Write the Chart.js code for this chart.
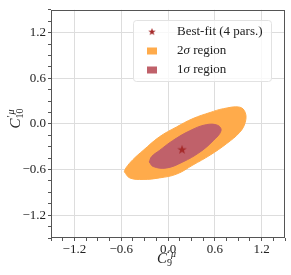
<!DOCTYPE html>
<html>
<head>
<meta charset="utf-8">
<script src="https://cdn.jsdelivr.net/npm/chart.js@4/dist/chart.umd.min.js"></script>
<style>
  html, body { margin: 0; padding: 0; background: #fff; }
  #wrap { width: 291px; height: 275px; }
</style>
</head>
<body>
<div id="wrap"><canvas id="fit"></canvas></div>
<script>
// axis range and labelled ticks
const axisMin = -1.5;
const axisMax = 1.5;
const majorTicks = [-1.2, -0.6, 0.0, 0.6, 1.2];

// best-fit point (C9', C10')
const bestFitX = [0.18];
const bestFitY = [-0.34];

// 2 sigma region outline
const sigma2X = [-0.56, -0.49, -0.32, -0.11, 0.11, 0.32, 0.54, 0.75, 0.92, 0.99, 0.99, 0.92, 0.71, 0.54, 0.32, 0.11, -0.11, -0.32, -0.45, -0.54];
const sigma2Y = [-0.63, -0.71, -0.73, -0.71, -0.66, -0.54, -0.41, -0.26, -0.11, 0.02, 0.15, 0.22, 0.20, 0.15, 0.07, -0.04, -0.17, -0.35, -0.47, -0.58];

// 1 sigma region outline
const sigma1X = [-0.24, -0.19, -0.02, 0.19, 0.41, 0.58, 0.68, 0.64, 0.49, 0.28, 0.06, -0.11, -0.21];
const sigma1Y = [-0.50, -0.56, -0.58, -0.50, -0.37, -0.22, -0.09, -0.02, -0.01, -0.09, -0.22, -0.35, -0.43];

const colors = {
  orange: "#ffab4b",
  red: "#c0616a",
  star: "#a52a2a",
  spine: "#555555",
  grid: "#dddddd",
};

const serif = "'Liberation Serif', 'DejaVu Serif', serif";

const toPoints = (xs, ys) => {
  const pts = xs.map((x, i) => ({ x: x, y: ys[i] }));
  pts.push({ ...pts[0] });
  return pts;
};

const isMajor = (v) => majorTicks.some((m) => Math.abs(m - v) < 1e-6);
const fmt = (v) => {
  const r = Math.round(v * 10) / 10;
  const s = Math.abs(r).toFixed(1);
  return r < 0 ? "\u2212" + s : s;
};

// filled five-point star marker
function starImage(size, color) {
  const c = document.createElement("canvas");
  c.width = size;
  c.height = size;
  const g = c.getContext("2d");
  const cx = size / 2, cy = size / 2, ro = size / 2, ri = ro * 0.4;
  g.beginPath();
  for (let i = 0; i < 10; i++) {
    const r = i % 2 === 0 ? ro : ri;
    const a = -Math.PI / 2 + (i * Math.PI) / 5;
    const px = cx + r * Math.cos(a), py = cy + r * Math.sin(a);
    i === 0 ? g.moveTo(px, py) : g.lineTo(px, py);
  }
  g.closePath();
  g.fillStyle = color;
  g.fill();
  return c;
}
const star = starImage(10, colors.star);

// draws C'^mu_n with stacked super/subscript
function drawCoef(ctx, x, y, sub) {
  ctx.save();
  ctx.fillStyle = "#222";
  ctx.textBaseline = "alphabetic";
  ctx.font = "italic 15px " + serif;
  ctx.textAlign = "left";
  const wC = ctx.measureText("C").width;
  ctx.font = "10px " + serif;
  const wSub = ctx.measureText(sub).width;
  ctx.font = "italic 10px " + serif;
  const wSup = ctx.measureText("\u2032\u03bc").width;
  const total = wC + 1 + Math.max(wSub, wSup);
  let x0 = x - total / 2;
  ctx.font = "italic 15px " + serif;
  ctx.fillText("C", x0, y + 5);
  ctx.font = "10px " + serif;
  ctx.fillText("\u2032", x0 + wC + 1, y - 1);
  ctx.font = "italic 10px " + serif;
  ctx.fillText("\u03bc", x0 + wC + 4, y - 1);
  ctx.font = "10px " + serif;
  ctx.fillText(sub, x0 + wC, y + 8);
  ctx.restore();
}

const framePlugin = {
  id: "frame",
  afterDraw(chart) {
    const { ctx, chartArea: a } = chart;
    ctx.save();
    ctx.strokeStyle = colors.spine;
    ctx.lineWidth = 1;
    ctx.strokeRect(Math.round(a.left) + 0.5, Math.round(a.top) + 0.5,
      Math.round(a.right - a.left) - 1, Math.round(a.bottom - a.top) - 1);

    // legend
    const lx = 133, ly = 20, lw = 138, lh = 61;
    ctx.beginPath();
    ctx.roundRect(lx + 0.5, ly + 0.5, lw, lh, 3);
    ctx.fillStyle = "rgba(255,255,255,0.8)";
    ctx.fill();
    ctx.strokeStyle = "#e2e2e2";
    ctx.stroke();

    const rows = [
      { y: 32, kind: "star", label: ["Best-fit (4 pars.)"] },
      { y: 51, kind: colors.orange, label: ["2", "\u03c3", " region"] },
      { y: 70, kind: colors.red, label: ["1", "\u03c3", " region"] },
    ];
    ctx.textBaseline = "middle";
    rows.forEach((r) => {
      if (r.kind === "star") {
        ctx.drawImage(star, 152 - 4, r.y - 4, 8, 8);
      } else {
        ctx.fillStyle = r.kind;
        ctx.fillRect(147, r.y - 3.5, 10, 7);
      }
      let tx = 177;
      ctx.fillStyle = "#222";
      r.label.forEach((part) => {
        ctx.font = (part === "\u03c3" ? "italic " : "") + "13px " + serif;
        ctx.fillText(part, tx, r.y);
        tx += ctx.measureText(part).width;
      });
    });

    // axis titles
    drawCoef(ctx, 166, 258, "9");
    ctx.translate(15, 118);
    ctx.rotate(-Math.PI / 2);
    drawCoef(ctx, 0, 0, "10");
    ctx.restore();
  },
};

const axisOptions = (fit) => ({
  type: "linear",
  min: axisMin,
  max: axisMax,
  afterFit: fit,
  border: { display: false },
  grid: {
    color: (c) => (c.tick && isMajor(c.tick.value) ? colors.grid : "rgba(0,0,0,0)"),
    tickColor: colors.spine,
    tickLength: 3,
    lineWidth: 1,
  },
  ticks: {
    stepSize: 0.15,
    maxTicksLimit: 40,
    autoSkip: false,
    maxRotation: 0,
    color: "#222",
    font: { family: serif, size: 13 },
    callback: (v) => (isMajor(v) ? fmt(v) : ""),
  },
});

window.onload = () => {
  new Chart(document.getElementById("fit").getContext("2d"), {
    type: "scatter",
    data: {
      datasets: [
        {
          label: "Best-fit (4 pars.)",
          data: bestFitX.map((x, i) => ({ x: x, y: bestFitY[i] })),
          pointStyle: star,
          pointRadius: 5,
          order: 0,
        },
        {
          label: "1\u03c3 region",
          data: toPoints(sigma1X, sigma1Y),
          showLine: true,
          tension: 0.4,
          fill: "shape",
          backgroundColor: colors.red,
          borderColor: colors.red,
          borderWidth: 1,
          pointRadius: 0,
          order: 1,
        },
        {
          label: "2\u03c3 region",
          data: toPoints(sigma2X, sigma2Y),
          showLine: true,
          tension: 0.4,
          fill: "shape",
          backgroundColor: colors.orange,
          borderColor: colors.orange,
          borderWidth: 1,
          pointRadius: 0,
          order: 2,
        },
      ],
    },
    options: {
      responsive: true,
      maintainAspectRatio: false,
      animation: false,
      layout: { padding: { top: 5, right: 6, left: 0, bottom: 0 } },
      plugins: {
        legend: { display: false },
        tooltip: { enabled: false },
      },
      scales: {
        x: {
          ...axisOptions((s) => { s.height = 37; }),
          ticks: { ...axisOptions().ticks, padding: 1 },
        },
        y: {
          ...axisOptions((s) => { s.width = 51; }),
          ticks: { ...axisOptions().ticks, padding: 2 },
        },
      },
    },
    plugins: [framePlugin],
  });
};
</script>
</body>
</html>
